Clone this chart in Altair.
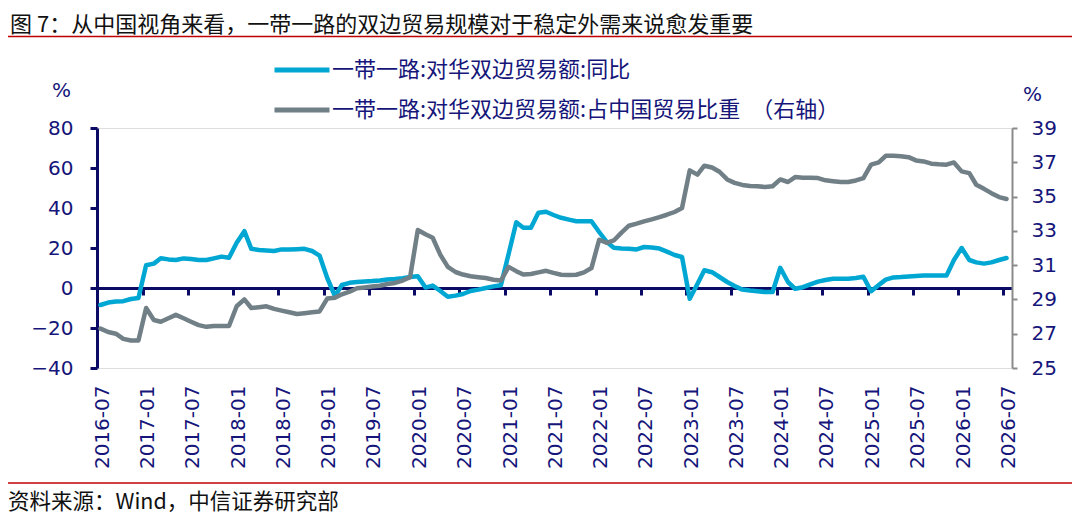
import altair as alt
import pandas as pd

# ---------------- data ----------------
dates = (pd.date_range("2016-07-01", periods=121, freq="MS") + pd.Timedelta(days=14)).strftime("%Y-%m-%d").tolist()

yoy = [
    -8.5, -7.3, -6.8, -6.6, -5.5, -5.0, 11.4, 12.2, 14.9, 14.3,
    14.0, 14.8, 14.5, 14.0, 14.0, 14.8, 15.7, 15.1, 22.6, 28.4,
    19.6, 19.0, 18.8, 18.5, 19.3, 19.2, 19.4, 19.6, 18.5, 16.2,
    5.0, -4.0, 1.5, 2.6, 3.0, 3.3, 3.5, 3.8, 4.2, 4.5,
    4.9, 5.5, 5.9, 0.2, 1.2, -1.5, -4.4, -3.8, -3.0, -1.5,
    -0.8, 0.0, 0.8, 1.4, 17.0, 32.9, 30.1, 30.1, 37.6, 38.1,
    36.5, 35.1, 34.2, 33.4, 33.4, 33.4, 28.0, 23.0, 20.1, 19.8,
    19.6, 19.3, 20.5, 20.2, 19.7, 18.2, 16.5, 15.5, -5.4, 2.0,
    8.9, 7.9, 5.5, 3.0, 1.0, -0.8, -1.3, -1.6, -2.0, -2.0,
    10.1, 3.0, -0.4, 0.4, 1.8, 3.2, 4.0, 4.6, 4.6, 4.6,
    5.0, 5.6, -1.6, 1.5, 4.2, 5.3, 5.5, 5.8, 6.0, 6.2,
    6.3, 6.2, 6.2, 14.0, 20.0, 14.0, 12.8, 12.2, 12.8, 14.0, 15.0,
]

share = [
    27.3, 27.1, 27.0, 26.7, 26.6, 26.6, 28.5, 27.8, 27.7, 27.9,
    28.1, 27.9, 27.7, 27.5, 27.4, 27.45, 27.45, 27.45, 28.6, 29.0,
    28.5, 28.55, 28.6, 28.45, 28.35, 28.25, 28.15, 28.2, 28.25, 28.3,
    29.05, 29.1, 29.3, 29.45, 29.65, 29.7, 29.75, 29.8, 29.9, 29.96,
    30.1, 30.3, 33.05, 32.8, 32.6, 31.6, 30.9, 30.6, 30.45, 30.35,
    30.3, 30.25, 30.15, 30.1, 30.9, 30.65, 30.45, 30.48, 30.58, 30.67,
    30.55, 30.44, 30.42, 30.44, 30.58, 30.83, 32.48, 32.3, 32.44, 32.9,
    33.3, 33.42, 33.55, 33.67, 33.8, 33.94, 34.1, 34.33, 36.53, 36.28,
    36.8, 36.7, 36.45, 36.0, 35.8, 35.68, 35.62, 35.6, 35.56, 35.6,
    36.0, 35.85, 36.14, 36.1, 36.1, 36.08, 35.95, 35.9, 35.85, 35.85,
    35.94, 36.08, 36.86, 36.99, 37.38, 37.38, 37.35, 37.3, 37.11, 37.05,
    36.92, 36.88, 36.86, 36.99, 36.47, 36.37, 35.69, 35.45, 35.2, 34.97, 34.86,
]

tick_years = [2016, 2017, 2017, 2018, 2018, 2019, 2019, 2020, 2020, 2021, 2021,
              2022, 2022, 2023, 2023, 2024, 2024, 2025, 2025, 2026, 2026]
tick_months = [7, 1, 7, 1, 7, 1, 7, 1, 7, 1, 7, 1, 7, 1, 7, 1, 7, 1, 7, 1, 7]

left_ticks = [-40, -20, 0, 20, 40, 60, 80]
right_ticks = [25, 27, 29, 31, 33, 35, 37, 39]

S1 = "一带一路:对华双边贸易额:同比"
S2 = "一带一路:对华双边贸易额:占中国贸易比重\u2002（右轴）"
TITLE = "图 7：从中国视角来看，一带一路的双边贸易规模对于稳定外需来说愈发重要"
SOURCE = "资料来源：Wind，中信证券研究部"

# ---------------- style ----------------
BLUE = "#00A7D3"
GRAY = "#717F86"
NAVY = "#0B0B66"
NAVY_TXT = "#15157A"
GRAY_AX = "#8A8A8A"
RED = "#C00000"
CJK = "Noto Sans CJK SC"
NUM = "DejaVu Sans"

df = pd.DataFrame({"date": dates, "yoy": yoy, "share": share})
tick_vals = [alt.DateTime(year=y, month=m, date=1) for y, m in zip(tick_years, tick_months)]
x_scale = alt.Scale(domain=[alt.DateTime(year=2016, month=7, date=1),
                            alt.DateTime(year=2026, month=8, date=6)])

base = alt.Chart(df)


def legend_at(y):
    return alt.Legend(orient="none", legendX=175, legendY=y, title=None,
                      symbolType="stroke", symbolSize=3025, symbolStrokeWidth=5,
                      labelFont=CJK, labelFontSize=22, labelColor=NAVY_TXT,
                      labelOffset=0, labelLimit=2000, padding=0)


blue = base.transform_calculate(s=f"'{S1}'").mark_line(
    strokeWidth=4.5, strokeJoin="round", strokeCap="round"
).encode(
    x=alt.X("date:T", scale=x_scale,
            axis=alt.Axis(values=tick_vals, format="%Y-%m", labelAngle=-90,
                          domain=False, ticks=False, tickSize=0, grid=False,
                          labelPadding=17, labelOffset=5, labelFont=NUM,
                          labelFontSize=20, labelColor=NAVY_TXT, title=None,
                          labelOverlap=False)),
    y=alt.Y("yoy:Q", scale=alt.Scale(domain=[-40, 80], nice=False, zero=False),
            axis=alt.Axis(values=left_ticks, grid=False, domainColor=NAVY,
                          domainWidth=3, tickColor=NAVY, tickWidth=3, tickSize=7,
                          labelPadding=17, labelFont=NUM, labelFontSize=20,
                          labelColor=NAVY_TXT, title="%", titleAngle=0,
                          titleX=-36, titleY=-38, titleAlign="center",
                          titleBaseline="middle", titleFont=NUM, titleFontSize=20,
                          titleFontWeight="normal", titleColor=NAVY_TXT)),
    color=alt.Color("s:N", scale=alt.Scale(domain=[S1], range=[BLUE]),
                    legend=legend_at(-88)),
)

gray = base.transform_calculate(s=f"'{S2}'").mark_line(
    strokeWidth=4.5, strokeJoin="round", strokeCap="round"
).encode(
    x=alt.X("date:T", scale=x_scale,
            axis=alt.Axis(values=tick_vals, labels=False, domain=True,
                          domainColor=NAVY, domainWidth=3, ticks=True,
                          tickColor=NAVY, tickWidth=3, tickSize=7, grid=False,
                          offset=-80, orient="bottom", title=None)),
    y=alt.Y("share:Q", scale=alt.Scale(domain=[25, 39], nice=False, zero=False),
            axis=alt.Axis(orient="right", values=right_ticks, grid=False,
                          domainColor=GRAY_AX, domainWidth=2, tickColor=GRAY_AX,
                          tickWidth=2, tickSize=5, labelPadding=14, labelFont=NUM,
                          labelFontSize=20, labelColor=NAVY_TXT, title="%",
                          titleAngle=0, titleX=20, titleY=-34, titleAlign="center",
                          titleBaseline="middle", titleFont=NUM, titleFontSize=20,
                          titleFontWeight="normal", titleColor=NAVY_TXT)),
    color=alt.Color("s:N", scale=alt.Scale(domain=[S2], range=[GRAY]),
                    legend=legend_at(-48)),
)

one = pd.DataFrame({"t": [TITLE], "src": [SOURCE]})
ann = alt.Chart(one)

title_txt = ann.mark_text(align="left", baseline="middle", font=CJK,
                          fontSize=22, color="#111111").encode(
    x=alt.value(-87), y=alt.value(-103.5), text="t:N")
src_txt = ann.mark_text(align="left", baseline="middle", font=CJK,
                        fontSize=21.5, color="#111111").encode(
    x=alt.value(-89), y=alt.value(375), text="src:N")
top_rule = ann.mark_rule(color=RED, strokeWidth=1.5).encode(
    x=alt.value(-89), x2=alt.value(978), y=alt.value(-91.5))
bot_rule = ann.mark_rule(color=RED, strokeWidth=1.5).encode(
    x=alt.value(-89), x2=alt.value(978), y=alt.value(355))

chart = alt.layer(blue, gray, title_txt, src_txt, top_rule, bot_rule).resolve_scale(
    y="independent", color="independent"
).resolve_axis(x="independent").properties(
    width=915, height=240,
    padding={"left": 89, "top": 120, "right": 60, "bottom": 148},
    autosize=alt.AutoSizeParams(type="none"),
).configure_view(stroke=None).configure(background="white")

chart.save("out.html", embed_options={"renderer": "svg", "actions": False})
